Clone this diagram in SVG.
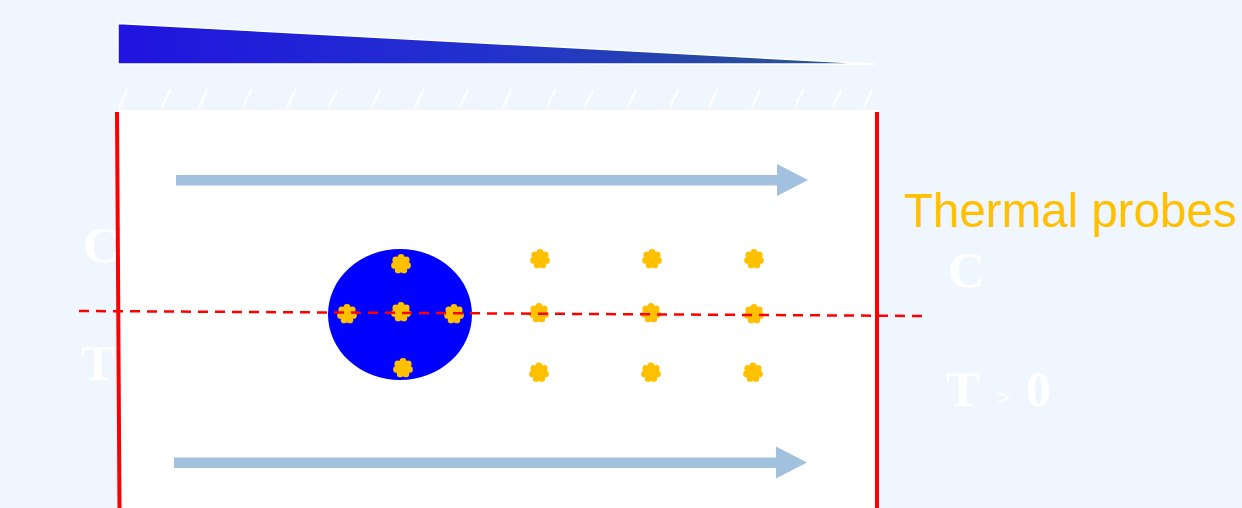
<svg xmlns="http://www.w3.org/2000/svg" xmlns:xlink="http://www.w3.org/1999/xlink" width="1242" height="508" viewBox="0 0 1242 508">
<style>
.serif{font-family:"Liberation Serif","Times New Roman",serif;fill:#FFFFFF;font-weight:bold;}
.label{font-family:"Liberation Sans",Arial,sans-serif;fill:#FFC000;}
.wall{stroke:#FF0000;stroke-width:4;fill:none;}
.hatch{stroke:#FFFFFF;stroke-width:2.2;stroke-linecap:round;}
.flow{fill:#A2C1DF;}
.probe{fill:#FFC000;}
</style>
<defs>
<linearGradient id="wedgeGrad" x1="0" y1="0" x2="1" y2="0">
<stop offset="0" stop-color="#2014E0"/>
<stop offset="0.5" stop-color="#2232CC"/>
<stop offset="1" stop-color="#2B5A88"/>
</linearGradient>
<g id="probe">
<circle cx="0" cy="0" r="7.2"/>
<circle cx="0" cy="-6.6" r="3.4"/>
<circle cx="5.16" cy="-4.11" r="3.4"/>
<circle cx="6.43" cy="1.47" r="3.4"/>
<circle cx="2.86" cy="5.95" r="3.4"/>
<circle cx="-2.86" cy="5.95" r="3.4"/>
<circle cx="-6.43" cy="1.47" r="3.4"/>
<circle cx="-5.16" cy="-4.11" r="3.4"/>
</g>
</defs>
<rect x="0" y="0" width="1242" height="508" fill="#EFF6FE"/>

<g id="wedge">
<polygon points="118,23.5 876,64 118,64" fill="url(#wedgeGrad)" stroke="#FFFFFF" stroke-width="1.5"/>
</g>

<g id="hatching">
<line class="hatch" x1="119" y1="107" x2="127" y2="90"/>
<line class="hatch" x1="162" y1="107" x2="170" y2="90"/>
<line class="hatch" x1="199" y1="107" x2="207" y2="90"/>
<line class="hatch" x1="243" y1="107" x2="251" y2="90"/>
<line class="hatch" x1="287" y1="107" x2="295" y2="90"/>
<line class="hatch" x1="329" y1="107" x2="337" y2="90"/>
<line class="hatch" x1="372" y1="107" x2="380" y2="90"/>
<line class="hatch" x1="415" y1="107" x2="423" y2="90"/>
<line class="hatch" x1="460" y1="107" x2="468" y2="90"/>
<line class="hatch" x1="503" y1="107" x2="511" y2="90"/>
<line class="hatch" x1="547" y1="107" x2="555" y2="90"/>
<line class="hatch" x1="585" y1="107" x2="593" y2="90"/>
<line class="hatch" x1="628" y1="107" x2="636" y2="90"/>
<line class="hatch" x1="670" y1="107" x2="678" y2="90"/>
<line class="hatch" x1="709" y1="107" x2="717" y2="90"/>
<line class="hatch" x1="752" y1="107" x2="760" y2="90"/>
<line class="hatch" x1="795" y1="107" x2="803" y2="90"/>
<line class="hatch" x1="833" y1="107" x2="841" y2="90"/>
<line class="hatch" x1="864" y1="107" x2="872" y2="90"/>
</g>

<g id="channel">
<rect x="119" y="110" width="758" height="398" fill="#FFFFFF"/>
</g>

<g id="left-wall">
<line class="wall" x1="117" y1="112" x2="119.5" y2="508"/>
</g>
<g id="right-wall">
<line class="wall" x1="877" y1="112" x2="877" y2="508"/>
</g>

<g id="cylinder">
<ellipse cx="400" cy="314.5" rx="72" ry="65.5" fill="#0000FF"/>
</g>

<g id="probes" class="probe">
<use xlink:href="#probe" href="#probe" x="401" y="264"/>
<use xlink:href="#probe" href="#probe" x="347" y="314"/>
<use xlink:href="#probe" href="#probe" x="401" y="312"/>
<use xlink:href="#probe" href="#probe" x="454" y="314"/>
<use xlink:href="#probe" href="#probe" x="403" y="368"/>
<use xlink:href="#probe" href="#probe" x="540" y="259"/>
<use xlink:href="#probe" href="#probe" x="652" y="259"/>
<use xlink:href="#probe" href="#probe" x="754" y="259"/>
<use xlink:href="#probe" href="#probe" x="539" y="313"/>
<use xlink:href="#probe" href="#probe" x="651" y="313"/>
<use xlink:href="#probe" href="#probe" x="754" y="314"/>
<use xlink:href="#probe" href="#probe" x="539" y="372.5"/>
<use xlink:href="#probe" href="#probe" x="651" y="372.5"/>
<use xlink:href="#probe" href="#probe" x="753" y="372.5"/>
</g>

<g id="connectors">
<polygon class="flow" points="176,175 777,175 777,164 808,180 777,196 777,185.5 176,185.5"/>
<polygon class="flow" points="174,457.5 776,457.5 776,446.5 807,462.5 776,478.5 776,468 174,468"/>
<line x1="79" y1="311" x2="926" y2="316" stroke="#FF0000" stroke-width="2.5" stroke-dasharray="10,7"/>
</g>

<g id="labels">
<text class="label" x="904" y="227" font-size="47.5">Thermal probes</text>
<text class="serif" x="83" y="262" font-size="51">C</text>
<text class="serif" x="81" y="380" font-size="51">T</text>
<text class="serif" x="948" y="287" font-size="51">C</text>
<text class="serif" y="405.5"><tspan x="946" font-size="51">T</tspan><tspan x="996" font-size="26">&gt;</tspan><tspan x="1026" font-size="50">0</tspan></text>
</g>
</svg>
